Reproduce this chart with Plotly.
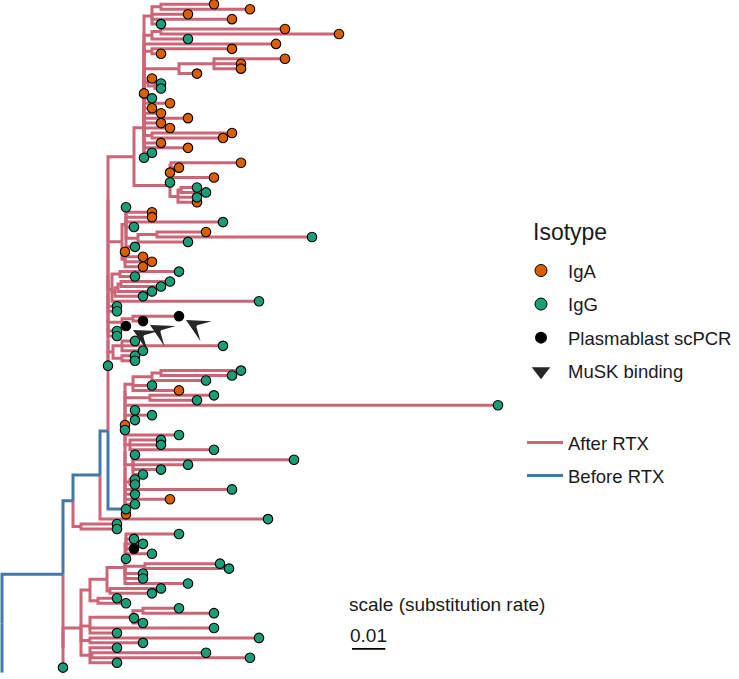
import plotly.graph_objects as go

# ---------------------------------------------------------------- data
# Phylogeny in a Newick-like notation.  Every ":value" is the node's
# cumulative distance from the root (depth) in units of DEPTH_UNIT
# substitutions per site.
# Tip labels: A = IgA, G = IgG, P = plasmablast scPCR, N = germline (no dot).
# A "*" after a tip label marks a MuSK-binding antibody.
# Internal label "b" = branch sampled before RTX (all other branches: after RTX).
DEPTH_UNIT = 0.001

CLADE_TOP = ("((A:63.6,A:74.4):47.7,A:55.8,A:69,G:47.7):45,"
             "((A:84.9,A:101.1):47.7,G:55.8):45,A:82.2,(A:69,A:47.7):45,"
             "((A:84.9,A:71.7,A:71.7):63.6,A:58.5):53.1,"
             "(A:45,(G:47.7,G:47.7):45.9):43.8,"
             "A:42.6,G:45,A:50.4,A:45,A:47.7,A:55.8,A:47.7,A:50.4,"
             "(A:69,A:66.3):45,A:47.7,A:55.8,G:45")
CLADE_M = "((" + CLADE_TOP + "):42.6,G:42.6):42.6"
CLADE_L = ("(((A:71.7,A:53.1):50.7,A:50.4,A:63.6,G:50.4):50.4,"
           "((G:58.5,G:61.2):53.7,G:58.5,A:58.5):52.8):50.4")
CLADE_B = "(" + CLADE_M + "," + CLADE_L + "):39.6"

CLADE_E = "(G:37.2,A:45,A:45,G:66.3,G:39.6,((A:61.2,G:93):46.5,G:55.8):40.8,G:39.9):37.2"
CLADE_F = "(A:36.9,A:42.3,A:45,A:42.3):36.9"
CLADE_EF = "(" + CLADE_E + "," + CLADE_F + "):36"
CLADE_G = "((G:53.1,G:39.9):35.4,(((G:50.4,G:47.7):35.7,G:45):34.8,G:42.3):33.9,G:77.1):33"
CLADE_PB = "((P*:53.1,P*:42.3):39.3,P*:37.2):36"
CLADE_H = "((G:39.9,G:66.3,G:42.3):36,(G:39.9,G:39.9):36):33.3"
CLADE_C = ("(((((((((" + CLADE_B + "," + CLADE_EF + "):31.8," + CLADE_G +
           "):31.8,G:34.5):31.8,G:34.5):31.8," + CLADE_PB +
           "):31.8,G:34.5):31.8,G:34.5):31.8," + CLADE_H + "):31.8,G:31.8):31.8")

CLADE_D0 = "(((G:71.7,G:69):47.7,G:61.2):45,G:45,A:53.1):39.3"
CLADE_D3 = "(G:63.6,G:58.5):44.4"
CLADE_D4 = "(G:39.9,G:45,G:39.9):39.3"
CLADE_D5 = "(G:47.7,G:47.7,G:63.6):38.4"
CLADE_D6 = "(G:39.9,G:87.6,G:55.8,G:47.7,G:42.3):39.3"
CLADE_D7 = "(G:39.9,G:39.9):38.4"
CLADE_D = ("(((((((((((((((" + CLADE_D0 + "," + CLADE_D3 + "):36.9,G:148.8):36.9," +
           CLADE_D4 + "):36.9,A:36.9):36.9,G:36.9):36.9,G:53.1):36.9," +
           CLADE_D5 + "):36.9," + CLADE_D6 + "):36.9," + CLADE_D7 +
           "):36.9,G:69):36.9,G:39.9):36.9,A:50.4):36.9,G:39.9):36.9,G:37.2):36.9,A:37.2)b:36.9")

CLADE_N125 = ("((G:53.1,G:39.6,G:42.3,P:39.6,G:45):37.2,G:37.2,(G:65.4,G:68.1):42.9,"
              "G:42.3,G:42.3,G:55.8):36.9")
CLADE_N90 = "((" + CLADE_N125 + ",(G:47.7,G:45):32.4):31.5,(G:34.5,G:37.2):28.8):26.4"
CLADE_O = "(((G:53.1,G:63.6):42.3,G:39.6,G:42.3):39.3,G:63.6,G:34.5):26.4"
CLADE_Q = "(G:34.5,(G:61.2,G:74.4):27,G:34.5):26.4"
CLADE_N81 = "(" + CLADE_N90 + "," + CLADE_O + ",(G:77.1,G:42.3):26.4," + CLADE_Q + "):23.7"

TREE = ("(((((" + CLADE_C + "," + CLADE_D + ")b:31.8,G:79.8)b:29.4,(G:34.5,G:34.5):23.7)b:21.3,"
        "(" + CLADE_N81 + ",G:18.3):18.3)b:18.3,N:0):0;")

ISOTYPES = ["IgA", "IgG", "Plasmablast scPCR"]
ISOTYPE_CODES = ["A", "G", "P"]
ISOTYPE_COLORS = ["#D95F02", "#1B9E77", "#000000"]
PERIODS = ["After RTX", "Before RTX"]
PERIOD_COLORS = ["#CC6677", "#4477AA"]
LEGEND_TITLE = "Isotype"
MUSK_LABEL = "MuSK binding"
SCALE_BAR_LENGTH = 0.01
SCALE_BAR_LABEL = "0.01"
SCALE_TITLE = "scale (substitution rate)"


# ---------------------------------------------------------------- parsing / layout
def parse_newick(text):
    s = "".join(text.split())
    pos = 0

    def node():
        nonlocal pos
        children = []
        if s[pos] == "(":
            pos += 1
            children.append(node())
            while s[pos] == ",":
                pos += 1
                children.append(node())
            pos += 1  # ')'
        start = pos
        while s[pos] not in ":,);":
            pos += 1
        label = s[start:pos]
        depth = 0.0
        if s[pos] == ":":
            pos += 1
            start = pos
            while s[pos] not in ",);":
                pos += 1
            depth = float(s[start:pos])
        return {"label": label, "depth": depth, "children": children}

    return node()


root = parse_newick(TREE)
tips = []


def layout(nd):
    nd["x"] = nd["depth"] * DEPTH_UNIT
    if not nd["children"]:
        nd["y"] = len(tips)
        tips.append(nd)
    else:
        for c in nd["children"]:
            layout(c)
        nd["y"] = sum(c["y"] for c in nd["children"]) / len(nd["children"])


layout(root)

edge_x = {p: [] for p in PERIODS}
edge_y = {p: [] for p in PERIODS}


def collect(nd):
    for c in nd["children"]:
        before = c["label"] == "b" or c["label"].startswith("N")
        key = PERIODS[1] if before else PERIODS[0]
        edge_x[key] += [nd["x"], nd["x"], c["x"], None]
        edge_y[key] += [nd["y"], c["y"], c["y"], None]
        collect(c)


collect(root)

fig = go.Figure()
FONT = "Liberation Sans, Arial, Helvetica, sans-serif"
TXT = "#1a1a1a"

for period, col in zip(PERIODS, PERIOD_COLORS):
    fig.add_trace(go.Scatter(x=edge_x[period], y=edge_y[period], mode="lines",
                             line=dict(color=col, width=3), hoverinfo="skip",
                             showlegend=False))

for name, code, col in zip(ISOTYPES, ISOTYPE_CODES, ISOTYPE_COLORS):
    sel = [t for t in tips if t["label"].startswith(code)]
    fig.add_trace(go.Scatter(x=[t["x"] for t in sel], y=[t["y"] for t in sel],
                             mode="markers", name=name, showlegend=False,
                             marker=dict(size=9.5, color=col,
                                         line=dict(color="black", width=1.1))))

for t in tips:
    if t["label"].endswith("*"):
        fig.add_annotation(x=t["x"], y=t["y"], xref="x", yref="y", text="",
                           showarrow=True, arrowhead=3, arrowsize=3.2, arrowwidth=1.2,
                           arrowcolor="#262626", ax=18, ay=10, standoff=8)

# legend entries
for i, (name, col) in enumerate(zip(ISOTYPES, ISOTYPE_COLORS)):
    fig.add_trace(go.Scatter(x=[None], y=[None], mode="markers", name=name,
                             legend="legend", legendgroup="g%d" % i,
                             marker=dict(size=12, color=col,
                                         line=dict(color="black", width=1 if i < 2 else 0))))
fig.add_trace(go.Scatter(x=[None], y=[None], mode="markers", name=MUSK_LABEL,
                         legend="legend", legendgroup="g3",
                         marker=dict(size=16, color="#262626", symbol="triangle-down")))
for i, (name, col) in enumerate(zip(PERIODS, PERIOD_COLORS)):
    fig.add_trace(go.Scatter(x=[None], y=[None], mode="lines", name=name,
                             legend="legend2", legendgroup="p%d" % i,
                             line=dict(color=col, width=3)))

# scale bar
SB_X0 = 0.105
SB_Y = 130.2
fig.add_shape(type="line", xref="x", yref="y", x0=SB_X0, x1=SB_X0 + SCALE_BAR_LENGTH,
              y0=SB_Y, y1=SB_Y, line=dict(color="black", width=1.8))
fig.add_annotation(x=SB_X0 + SCALE_BAR_LENGTH / 2, y=SB_Y, xref="x", yref="y",
                   text=SCALE_BAR_LABEL, showarrow=False, yanchor="bottom", yshift=1,
                   font=dict(size=19, color=TXT, family=FONT))
fig.add_annotation(x=SB_X0, y=SB_Y, xref="x", yref="y", text=SCALE_TITLE,
                   showarrow=False, xanchor="left", yanchor="bottom", xshift=-5, yshift=32,
                   font=dict(size=19, color=TXT, family=FONT))

W, H = 739, 679
fig.add_annotation(x=531 / W, y=1 - 232 / H, xref="paper", yref="paper", text=LEGEND_TITLE,
                   showarrow=False, xanchor="left", yanchor="middle",
                   font=dict(size=23, color=TXT, family=FONT))

fig.update_layout(
    width=W, height=H, margin=dict(l=0, r=0, t=0, b=0),
    plot_bgcolor="white", paper_bgcolor="white",
    font=dict(family=FONT, color=TXT),
    xaxis=dict(range=[-0.0006, 0.2211], visible=False, fixedrange=True),
    yaxis=dict(range=[136.3, -0.869], visible=False, fixedrange=True),
    legend=dict(x=514 / W, xanchor="left", y=1 - 252 / H, yanchor="top",
                font=dict(size=18.5), tracegroupgap=6.5, itemwidth=44,
                bgcolor="rgba(0,0,0,0)"),
    legend2=dict(x=522 / W, xanchor="left", y=1 - 424 / H, yanchor="top",
                 font=dict(size=18.5), tracegroupgap=6, itemwidth=36,
                 bgcolor="rgba(0,0,0,0)"),
)

fig.write_html("out.html", config={"displayModeBar": False},
               post_script="document.body.style.margin='0';")
